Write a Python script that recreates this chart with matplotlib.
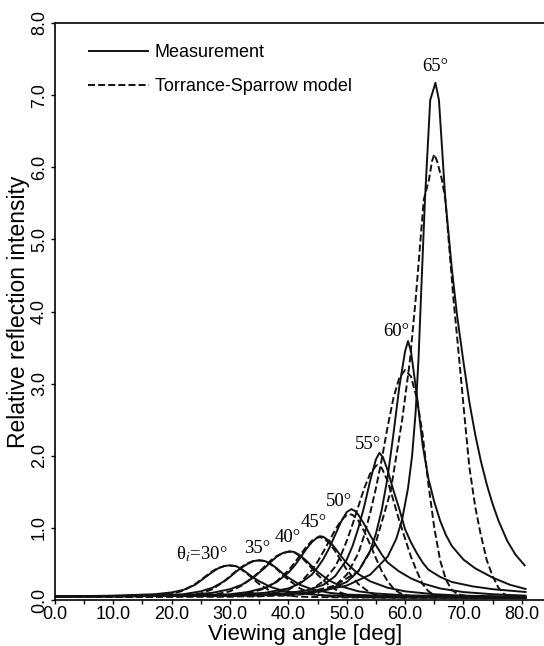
import matplotlib
matplotlib.use("Agg")
import matplotlib.pyplot as plt

plt.rcParams['font.family'] = ['Liberation Sans', 'DejaVu Sans']
plt.rcParams['mathtext.fontset'] = 'stix'

meas30_x = [0, 10, 17, 20, 22, 24, 25, 26, 27, 28, 29, 29.8, 31, 32, 33, 34, 35, 37, 39, 42, 46, 55, 80.8]
meas30_y = [0.05, 0.06, 0.08, 0.105, 0.14, 0.21, 0.27, 0.33, 0.39, 0.44, 0.47, 0.48, 0.47, 0.43, 0.37, 0.31, 0.26, 0.18, 0.13, 0.09, 0.065, 0.05, 0.04]
meas35_x = [0, 15, 22, 25, 27, 29, 30, 31, 32, 33, 34, 35, 36, 37, 38, 39, 40, 42, 44, 47, 50, 60, 80.8]
meas35_y = [0.05, 0.06, 0.08, 0.12, 0.17, 0.26, 0.32, 0.39, 0.45, 0.50, 0.54, 0.55, 0.54, 0.50, 0.44, 0.37, 0.31, 0.21, 0.15, 0.10, 0.075, 0.05, 0.04]
meas40_x = [0, 15, 23, 27, 30, 32, 34, 35, 36, 37, 38, 39, 40.2, 41, 42, 43, 44, 45, 47, 49, 52, 55, 60, 70, 80.8]
meas40_y = [0.05, 0.055, 0.07, 0.10, 0.15, 0.21, 0.31, 0.38, 0.45, 0.53, 0.60, 0.65, 0.675, 0.665, 0.62, 0.55, 0.47, 0.39, 0.27, 0.19, 0.12, 0.09, 0.065, 0.05, 0.04]
meas45_x = [0, 20, 30, 33, 36, 38, 40, 41, 42, 43, 44, 45, 45.4, 46, 47, 48, 49, 50, 52, 54, 57, 60, 65, 70, 80.8]
meas45_y = [0.05, 0.055, 0.08, 0.11, 0.17, 0.25, 0.38, 0.47, 0.58, 0.70, 0.80, 0.87, 0.885, 0.875, 0.82, 0.72, 0.61, 0.51, 0.36, 0.26, 0.17, 0.12, 0.08, 0.06, 0.045]
meas50_x = [0, 20, 30, 36, 40, 42, 44, 45, 46, 47, 48, 49, 50, 50.8, 51.5, 52, 53, 54, 55, 56, 57, 58.9, 61, 63, 66, 70, 75, 80.8]
meas50_y = [0.05, 0.055, 0.07, 0.10, 0.16, 0.23, 0.35, 0.45, 0.57, 0.72, 0.90, 1.08, 1.22, 1.26, 1.23, 1.18, 1.05, 0.90, 0.76, 0.63, 0.52, 0.40, 0.30, 0.23, 0.16, 0.11, 0.08, 0.06]
meas55_x = [0, 30, 38, 43, 46, 48, 50, 51, 52, 53, 54, 55, 55.6, 56.2, 57, 58, 58.9, 60, 61, 62, 63, 64, 66, 68, 71.5, 75, 80.8]
meas55_y = [0.05, 0.06, 0.08, 0.13, 0.21, 0.33, 0.56, 0.75, 1.00, 1.30, 1.65, 1.95, 2.04, 1.98, 1.80, 1.52, 1.29, 0.98, 0.80, 0.65, 0.52, 0.42, 0.32, 0.25, 0.19, 0.15, 0.11]
meas60_x = [0, 35, 42, 47, 50, 52, 54, 55, 56, 57, 58, 59, 60, 60.5, 61, 62, 63, 64, 65, 66, 67, 68, 70, 72, 75, 78, 80.8]
meas60_y = [0.05, 0.06, 0.09, 0.15, 0.25, 0.40, 0.68, 0.92, 1.25, 1.70, 2.30, 2.95, 3.45, 3.59, 3.45, 2.85, 2.15, 1.68, 1.36, 1.10, 0.90, 0.75, 0.56, 0.44, 0.31, 0.21, 0.15]
meas65_x = [0, 30, 44, 50, 54, 57, 58.5, 59.5, 60.5, 61.2, 61.8, 62.3, 62.7, 63.4, 64.3, 65.2, 65.8, 66.9, 68.0, 68.9, 70.0, 71.0, 72.0, 73.0, 74.0, 75.0, 76.0, 77.5, 78.9, 80.6]
meas65_y = [0.05, 0.06, 0.10, 0.20, 0.35, 0.60, 0.85, 1.12, 1.55, 2.00, 2.60, 3.35, 4.16, 5.55, 6.93, 7.17, 6.93, 5.55, 4.60, 3.95, 3.30, 2.75, 2.30, 1.92, 1.60, 1.33, 1.10, 0.82, 0.63, 0.47]

# Torrance-Sparrow model curves (dashed)
model30_x = [0, 10, 17, 20, 22, 24, 25, 26, 27, 28, 29, 29.8, 31, 32, 33, 34, 35, 37, 39, 42, 50, 80.8]
model30_y = [0.05, 0.05, 0.06, 0.085, 0.13, 0.22, 0.28, 0.34, 0.40, 0.445, 0.47, 0.48, 0.47, 0.42, 0.36, 0.29, 0.22, 0.12, 0.07, 0.045, 0.035, 0.03]
model35_x = [0, 15, 22, 25, 27, 29, 30, 31, 32, 33, 34, 35, 36, 37, 38, 39, 40, 42, 44, 47, 55, 80.8]
model35_y = [0.05, 0.05, 0.06, 0.09, 0.15, 0.26, 0.33, 0.40, 0.46, 0.51, 0.54, 0.55, 0.54, 0.49, 0.43, 0.35, 0.28, 0.16, 0.09, 0.05, 0.035, 0.03]
model40_x = [0, 20, 27, 30, 32, 34, 35, 36, 37, 38, 39, 40.1, 41, 42, 43, 44, 45, 47, 49, 51, 55, 80.8]
model40_y = [0.05, 0.05, 0.07, 0.12, 0.20, 0.32, 0.39, 0.47, 0.55, 0.61, 0.65, 0.67, 0.66, 0.61, 0.53, 0.44, 0.35, 0.20, 0.10, 0.055, 0.035, 0.03]
model45_x = [0, 20, 30, 33, 36, 38, 40, 41, 42, 43, 44, 45, 45.4, 46, 47, 48, 49, 50, 52, 54, 56, 60, 80.8]
model45_y = [0.05, 0.05, 0.06, 0.09, 0.16, 0.26, 0.41, 0.51, 0.62, 0.73, 0.82, 0.865, 0.87, 0.86, 0.79, 0.68, 0.55, 0.42, 0.22, 0.10, 0.05, 0.035, 0.03]
model50_x = [0, 30, 36, 40, 42, 44, 45, 46, 47, 48, 49, 50, 50.5, 51, 52, 53, 54, 55, 56, 57, 58, 59, 60, 62, 80.8]
model50_y = [0.05, 0.05, 0.07, 0.14, 0.24, 0.41, 0.53, 0.67, 0.82, 0.97, 1.10, 1.18, 1.19, 1.18, 1.10, 0.95, 0.77, 0.58, 0.40, 0.26, 0.16, 0.10, 0.07, 0.04, 0.03]
model55_x = [0, 30, 40, 44, 46, 48, 49, 50, 51, 52, 53, 54, 55, 55.3, 56, 57, 58, 59, 60, 61, 62, 63, 64, 65, 67, 80.8]
model55_y = [0.05, 0.05, 0.08, 0.15, 0.26, 0.46, 0.62, 0.82, 1.05, 1.30, 1.55, 1.75, 1.86, 1.87, 1.83, 1.65, 1.38, 1.10, 0.85, 0.60, 0.40, 0.22, 0.12, 0.07, 0.04, 0.03]
model60_x = [0, 40, 45, 48, 50, 52, 53, 54, 55, 56, 57, 58, 59, 60, 61, 62, 63, 64, 65, 66, 67, 68, 69, 71, 80.8]
model60_y = [0.05, 0.06, 0.10, 0.20, 0.35, 0.65, 0.90, 1.20, 1.55, 1.95, 2.40, 2.80, 3.08, 3.19, 3.10, 2.80, 2.30, 1.60, 1.00, 0.55, 0.28, 0.14, 0.08, 0.05, 0.03]
model65_x = [0, 35, 43, 48, 52, 55, 57.5, 59.5, 60.8, 61.8, 63.2, 64.1, 64.6, 65.0, 65.5, 66.3, 66.9, 68.3, 69.2, 70.0, 71.0, 72.0, 72.9, 74.0, 75.0, 76.0, 77.0, 78.0, 80.8]
model65_y = [0.05, 0.05, 0.10, 0.20, 0.40, 0.80, 1.50, 2.50, 3.30, 4.16, 5.55, 5.83, 6.08, 6.18, 6.08, 5.83, 5.55, 4.16, 3.40, 2.70, 1.85, 1.30, 0.93, 0.55, 0.33, 0.17, 0.08, 0.05, 0.03]

meas_x = [meas30_x, meas35_x, meas40_x, meas45_x, meas50_x, meas55_x, meas60_x, meas65_x]
meas_y = [meas30_y, meas35_y, meas40_y, meas45_y, meas50_y, meas55_y, meas60_y, meas65_y]
model_x = [model30_x, model35_x, model40_x, model45_x, model50_x, model55_x, model60_x, model65_x]
model_y = [model30_y, model35_y, model40_y, model45_y, model50_y, model55_y, model60_y, model65_y]

angle_labels = [r'θ$_i$=30°', '35°', '40°', '45°', '50°', '55°', '60°', '65°']
label_x = [25.1, 34.7, 39.9, 44.4, 48.7, 53.6, 58.5, 65.1]
label_y = [0.63, 0.72, 0.86, 1.07, 1.37, 2.16, 3.72, 7.39]

fig = plt.figure(figsize=(5.44, 6.46), dpi=100)
ax = fig.add_axes([0.101, 0.0712, 0.899, 0.8932])

lw = 1.4
for i in range(len(meas_x)):
    ax.plot(meas_x[i], meas_y[i], color='#111111', lw=lw, solid_capstyle='butt',
            solid_joinstyle='round', label='Measurement' if i == 0 else None)
    ax.plot(model_x[i], model_y[i], color='#111111', lw=lw, linestyle=(0, (3.6, 1.6)),
            label='Torrance-Sparrow model' if i == 0 else None)

for t, x, y in zip(angle_labels, label_x, label_y):
    ax.text(x, y, t, ha='center', va='center', fontsize=13.5,
            family=['Liberation Serif', 'DejaVu Serif'])

ax.set_xlim(0, 83.8)
ax.set_ylim(0, 8.0)
ax.set_xticks([0, 10, 20, 30, 40, 50, 60, 70, 80])
ax.set_xticklabels(['0.0', '10.0', '20.0', '30.0', '40.0', '50.0', '60.0', '70.0', '80.0'])
ax.set_xticks([5, 15, 25, 35, 45, 55, 65, 75], minor=True)
ax.set_yticks([0, 1, 2, 3, 4, 5, 6, 7, 8])
ax.set_yticklabels(['0.0', '1.0', '2.0', '3.0', '4.0', '5.0', '6.0', '7.0', '8.0'],
                   rotation=90, va='center')
ax.tick_params(axis='both', which='major', direction='out', length=3, width=1,
               labelsize=13, pad=2)
ax.tick_params(axis='x', which='major', pad=1)
ax.tick_params(axis='x', which='minor', direction='out', length=3, width=1)
ax.spines['right'].set_visible(False)
for s in ['left', 'bottom', 'top']:
    ax.spines[s].set_linewidth(1.2)

ax.set_xlabel('Viewing angle [deg]', fontsize=16, labelpad=0)
ax.xaxis.set_label_coords(0.512, -0.041)
ax.set_ylabel('Relative reflection intensity', fontsize=16.5, labelpad=1)

leg = ax.legend(loc='upper left', bbox_to_anchor=(0.053, 0.976), frameon=False,
                fontsize=13, handlelength=3.4, handletextpad=0.3, labelspacing=0.95,
                borderaxespad=0)

fig.savefig('out.png', dpi=100)
